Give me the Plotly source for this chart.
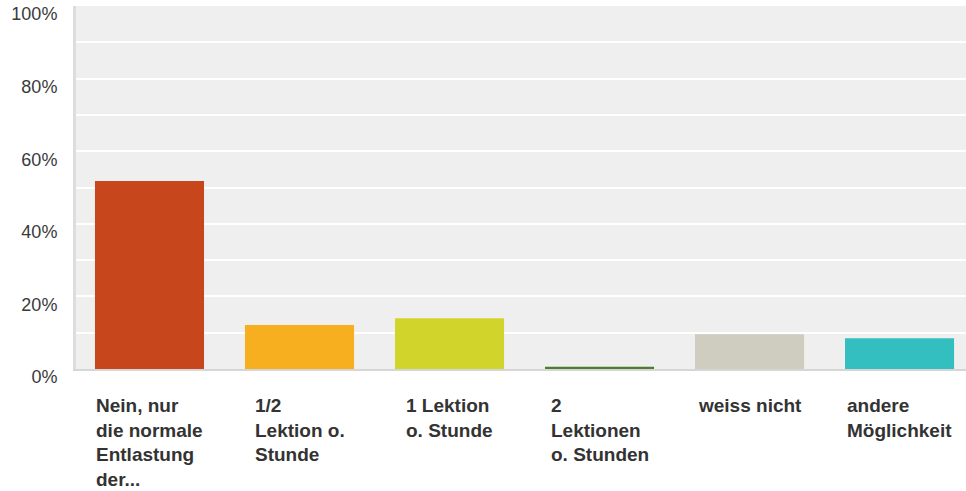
import plotly.graph_objects as go

categories = [
    "Nein, nur<br>die normale<br>Entlastung<br>der...",
    "1/2<br>Lektion o.<br>Stunde",
    "1 Lektion<br>o. Stunde",
    "2<br>Lektionen<br>o. Stunden",
    "weiss nicht",
    "andere<br>Möglichkeit",
]
values = [51.8, 12.1, 14.0, 0.6, 9.6, 8.5]
colors = ["#C8461C", "#F7AF1F", "#D1D52B", "#4E7E2D", "#CFCDBF", "#33BEBF"]
y_ticks = [0, 20, 40, 60, 80, 100]
y_tick_labels = ["0%", "20%", "40%", "60%", "80%", "100%"]

FONT = "Liberation Sans, Arial, Helvetica, sans-serif"
BAR_W = 0.727
xs = list(range(len(categories)))

fig = go.Figure(
    go.Bar(x=xs, y=values, marker=dict(color=colors, line=dict(width=0)),
           width=BAR_W, hoverinfo="skip")
)

annotations = []
for i, lab in enumerate(categories):
    annotations.append(dict(
        x=i, xref="x", xanchor="center",
        y=0, yref="paper", yanchor="top", yshift=-24,
        text=lab, showarrow=False, align="left",
        font=dict(family=FONT, size=19, color="#333333", weight="bold"),
    ))

fig.update_layout(
    width=966, height=491,
    margin=dict(l=76, r=0, t=6, b=122),
    paper_bgcolor="white", plot_bgcolor="#EFEFEF",
    showlegend=False,
    annotations=annotations,
    xaxis=dict(range=[-0.49, 5.443], showticklabels=False, showgrid=False,
               zeroline=False, showline=True, linecolor="#D6D6D6", linewidth=2),
    yaxis=dict(range=[0, 100], tickmode="array", tickvals=y_ticks, ticktext=y_tick_labels,
               showgrid=True, gridcolor="white", gridwidth=2,
               zeroline=False, showline=True, linecolor="#DDDDDD", linewidth=3,
               ticklabelstandoff=12, ticklabelshift=8,
               tickfont=dict(family=FONT, size=18, color="#3A3A3A"),
               minor=dict(dtick=10, showgrid=True, gridcolor="white", gridwidth=2)),
)

fig.write_html("out.html", post_script="document.body.style.margin='0';",
               config={"displayModeBar": False})
